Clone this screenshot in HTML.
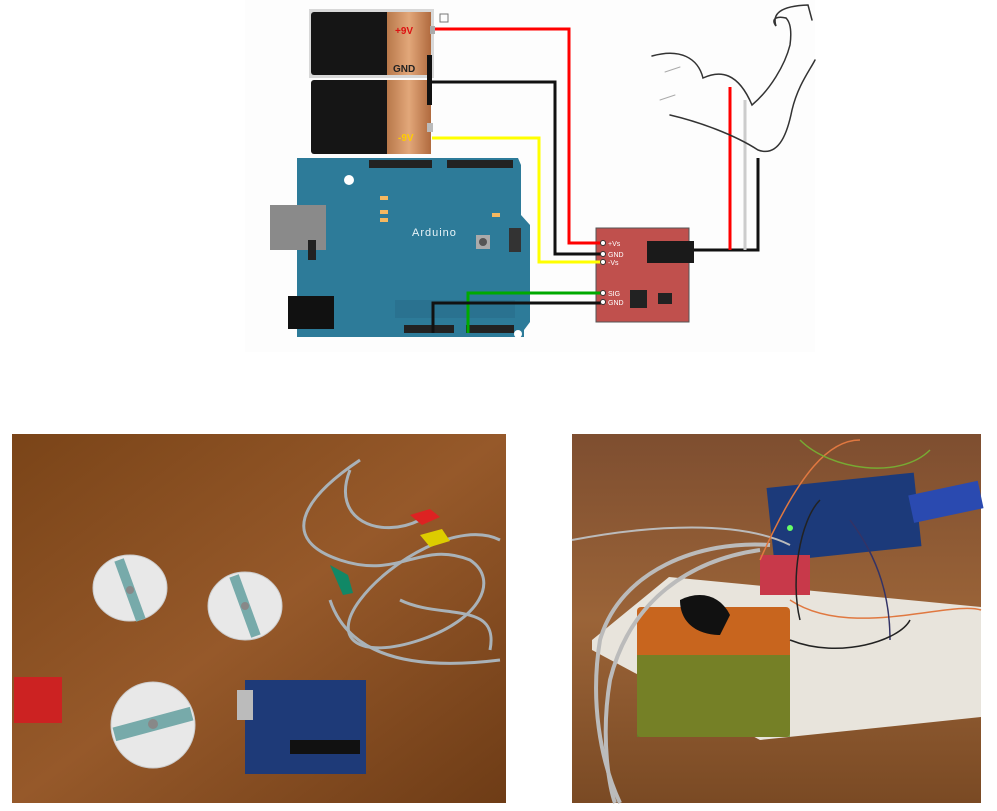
<!DOCTYPE html>
<html><head><meta charset="utf-8"><style>
html,body{margin:0;padding:0;background:#fff;width:997px;height:811px;overflow:hidden}
svg{display:block}
text{font-family:"Liberation Sans",sans-serif}
</style></head><body>
<svg width="997" height="811" viewBox="0 0 997 811" xmlns="http://www.w3.org/2000/svg">
<defs>
<linearGradient id="cop" x1="0" x2="1"><stop offset="0" stop-color="#b8784a"/><stop offset=".5" stop-color="#e2a77a"/><stop offset="1" stop-color="#b06a3e"/></linearGradient>
<linearGradient id="wood" x1="0" y1="0" x2="1" y2="1"><stop offset="0" stop-color="#7a4418"/><stop offset=".5" stop-color="#96592a"/><stop offset="1" stop-color="#6e3c16"/></linearGradient>
<linearGradient id="wood2" x1="0" y1="0" x2="0" y2="1"><stop offset="0" stop-color="#7e4e30"/><stop offset=".5" stop-color="#9b6438"/><stop offset="1" stop-color="#7a4a24"/></linearGradient>
</defs>
<rect x="245" y="0" width="570" height="352" fill="#fdfdfd"/>
<!-- batteries -->
<rect x="309" y="9" width="125" height="69" fill="#d8d8d8"/>
<rect x="311" y="12" width="80" height="63" rx="3" fill="#151515"/>
<rect x="387" y="12" width="44" height="63" fill="url(#cop)"/>
<text x="395" y="34" font-size="10" font-weight="bold" fill="#d11">+9V</text>
<text x="393" y="72" font-size="10" font-weight="bold" fill="#222">GND</text>
<rect x="311" y="80" width="80" height="74" rx="3" fill="#151515"/>
<rect x="387" y="80" width="44" height="74" fill="url(#cop)"/>
<text x="398" y="141" font-size="10" font-weight="bold" fill="#fc0">-9V</text>
<rect x="430" y="26" width="5" height="8" fill="#aaa"/>
<rect x="427" y="123" width="6" height="9" fill="#bbb"/>
<rect x="427" y="55" width="5" height="50" fill="#111"/>
<rect x="440" y="14" width="8" height="8" fill="none" stroke="#777" stroke-width="1"/>
<!-- arduino -->
<path d="M297 158 H518 L521 165 V215 L530 225 V322 L524 330 V337 H297 Z" fill="#2d7b99"/>
<rect x="270" y="205" width="56" height="45" fill="#8a8a8a"/>
<rect x="288" y="296" width="46" height="33" fill="#111"/>
<rect x="369" y="160" width="63" height="8" fill="#222"/>
<rect x="447" y="160" width="66" height="8" fill="#222"/>
<rect x="404" y="325" width="50" height="8" fill="#222"/>
<rect x="466" y="325" width="48" height="8" fill="#222"/>
<text x="412" y="236" font-size="11" fill="#e8f4f8" font-family="Liberation Mono" letter-spacing="1">Arduino</text>
<rect x="476" y="235" width="14" height="14" fill="#aaa"/><circle cx="483" cy="242" r="4" fill="#555"/>
<rect x="509" y="228" width="12" height="24" fill="#333"/>
<rect x="308" y="240" width="8" height="20" fill="#222"/>
<rect x="380" y="196" width="8" height="4" fill="#f4b860"/><rect x="380" y="210" width="8" height="4" fill="#f4b860"/><rect x="380" y="218" width="8" height="4" fill="#f4b860"/><rect x="492" y="213" width="8" height="4" fill="#f4b860"/>
<rect x="395" y="300" width="120" height="18" fill="#2a7290"/>
<circle cx="349" cy="180" r="5" fill="#fff"/><circle cx="518" cy="334" r="4" fill="#fff"/>
<!-- module -->
<rect x="596" y="228" width="93" height="94" fill="#c0504d" stroke="#555" stroke-width="1"/>
<rect x="647" y="241" width="47" height="22" fill="#1a1a1a"/>
<rect x="630" y="290" width="17" height="18" fill="#222"/><rect x="658" y="293" width="14" height="11" fill="#222"/>
<!-- wires -->
<g fill="none" stroke-width="3">
<polyline points="435,29 569,29 569,243 601,243" stroke="#f00"/>
<polyline points="430,82 555,82 555,254 601,254" stroke="#111"/>
<polyline points="432,138 539,138 539,262 601,262" stroke="#ff0"/>
<polyline points="468,333 468,293 601,293" stroke="#0a0"/>
<polyline points="433,333 433,303 601,303" stroke="#111"/>
<polyline points="694,250 758,250 758,158" stroke="#111"/>
<line x1="730" y1="87" x2="730" y2="250" stroke="#f00"/>
<line x1="745" y1="100" x2="745" y2="250" stroke="#ccc"/>
</g>
<g fill="#fff" stroke="#333" stroke-width="1"><circle cx="603" cy="243" r="2.5"/><circle cx="603" cy="254" r="2.5"/><circle cx="603" cy="262" r="2.5"/><circle cx="603" cy="293" r="2.5"/><circle cx="603" cy="302" r="2.5"/></g>
<g font-size="7" fill="#fff"><text x="608" y="246">+Vs</text><text x="608" y="257">GND</text><text x="608" y="265">-Vs</text><text x="608" y="296">SIG</text><text x="608" y="305">GND</text></g>
<!-- arm -->
<g fill="none" stroke="#333" stroke-width="1.5" stroke-linecap="round">
<path d="M652 56 C680 48 698 58 703 78 C720 70 738 72 752 105 C770 90 785 65 790 45 C792 30 790 22 786 18"/>
<path d="M786 18 C778 16 770 18 776 26 C772 14 780 6 808 5 L812 20"/>
<path d="M670 115 C700 122 735 135 758 150 C780 158 788 130 792 110 C798 85 810 70 815 60"/>
<path d="M660 100 L675 95 M665 72 L680 67" stroke="#aaa" stroke-width="1"/>
</g>
<!-- left photo -->
<rect x="12" y="434" width="494" height="369" fill="url(#wood)"/>
<g fill="#e8e8e8" stroke="#ccc"><ellipse cx="130" cy="588" rx="37" ry="33"/><ellipse cx="245" cy="606" rx="37" ry="34"/><ellipse cx="153" cy="725" rx="42" ry="43"/></g>
<g fill="#7aa"><rect x="125" y="558" width="10" height="64" transform="rotate(-20 130 590)"/><rect x="240" y="574" width="10" height="64" transform="rotate(-20 245 606)"/><rect x="113" y="717" width="80" height="14" transform="rotate(-15 153 724)"/></g>
<g fill="#888"><circle cx="130" cy="590" r="4"/><circle cx="245" cy="606" r="4"/><circle cx="153" cy="724" r="5"/></g>
<g fill="none" stroke="#a9b2b8" stroke-width="3"><path d="M360 460 C300 500 280 540 340 560 C400 580 420 540 470 560 C500 580 480 620 420 640 C360 660 330 640 360 600 C390 560 460 520 500 540"/><path d="M350 470 C330 520 380 540 420 520"/><path d="M400 600 C440 620 500 600 490 650"/><path d="M330 600 C350 660 420 670 500 660"/></g>
<path d="M410 515 l20 -6 l10 8 l-18 8z" fill="#d22"/><path d="M420 535 l22 -6 l8 12 l-20 6z" fill="#dc0"/><path d="M330 565 l18 10 l5 18 l-10 2z" fill="#186"/>
<rect x="14" y="677" width="48" height="46" fill="#c22"/>
<rect x="245" y="680" width="121" height="94" fill="#1e3a78"/>
<rect x="237" y="690" width="16" height="30" fill="#bbb"/>
<rect x="290" y="740" width="70" height="14" fill="#111"/>
<!-- right photo -->
<rect x="572" y="434" width="409" height="369" fill="url(#wood2)"/>
<rect x="770" y="480" width="148" height="74" fill="#1c3a7a" transform="rotate(-6 845 517)"/>
<rect x="910" y="488" width="71" height="28" fill="#2a4ab0" transform="rotate(-12 945 500)"/>
<circle cx="790" cy="528" r="3" fill="#6f6"/>
<polygon points="592,640 669,577 981,607 981,717 760,740 592,650" fill="#e8e4dc"/>
<rect x="637" y="607" width="153" height="130" rx="4" fill="#c8651e"/>
<rect x="637" y="655" width="153" height="82" fill="#5a8a2a" opacity=".75"/>
<path d="M680 600 c20 -10 40 -5 50 15 l-10 20 c-20 0 -40 -10 -40 -35z" fill="#111"/>
<rect x="760" y="555" width="50" height="40" fill="#c8394a"/>
<g fill="none" stroke="#bbb" stroke-width="4"><path d="M770 545 C700 540 620 570 600 640 C590 700 600 760 620 803"/><path d="M760 550 C690 560 630 600 610 680 C600 740 610 790 615 803"/><path d="M790 545 C740 520 650 525 572 540" stroke-width="2"/></g>
<g fill="none" stroke-width="1.5"><path d="M760 560 C800 470 830 440 860 440" stroke="#e07840"/><path d="M790 600 C850 640 950 600 981 610" stroke="#e07840"/><path d="M850 520 C880 560 890 600 890 640" stroke="#336"/><path d="M820 500 C800 520 790 580 800 620" stroke="#222"/><path d="M790 640 C840 660 900 640 910 620" stroke="#222"/><path d="M800 440 C830 470 900 480 930 450" stroke="#7a3"/></g>
</svg>
</body></html>
